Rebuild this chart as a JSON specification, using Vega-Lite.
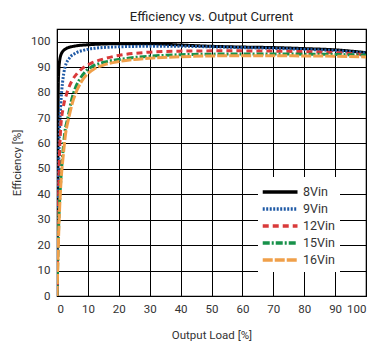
{
  "$schema": "https://vega.github.io/schema/vega-lite/v6.json",
  "autosize": "none",
  "width": 309,
  "height": 267,
  "padding": {"left": 57, "top": 29, "right": 22, "bottom": 60},
  "background": "white",
  "title": {"text": "Efficiency vs. Output Current", "font": "Roboto", "fontSize": 13, "fontWeight": "normal", "color": "#222", "offset": 5},
  "config": {
    "view": {"stroke": "black", "strokeWidth": 1.2},
    "font": "Roboto",
    "legend": {"title": null, "orient": "none", "legendX": 201, "legendY": 148, "fillColor": "white", "padding": 5, "symbolType": "M-1.3,0H3.1", "symbolSize": 250, "symbolStrokeWidth": 3.5, "labelFontSize": 12.5, "labelColor": "#333", "labelOffset": 20, "labelAlign": "left", "rowPadding": 0, "labelFont": "Roboto"}
  },
  "data": {"values": [
    {"s":"8Vin","x":0,"y":0},{"s":"8Vin","x":0.25,"y":50},{"s":"8Vin","x":0.45,"y":85},{"s":"8Vin","x":0.8,"y":92},{"s":"8Vin","x":1.5,"y":95.5},{"s":"8Vin","x":3,"y":97.3},{"s":"8Vin","x":5,"y":98.1},{"s":"8Vin","x":10,"y":98.8},{"s":"8Vin","x":20,"y":99.2},{"s":"8Vin","x":30,"y":99.2},{"s":"8Vin","x":40,"y":98.7},{"s":"8Vin","x":50,"y":98.2},{"s":"8Vin","x":60,"y":97.9},{"s":"8Vin","x":70,"y":97.7},{"s":"8Vin","x":80,"y":97.3},{"s":"8Vin","x":90,"y":96.8},{"s":"8Vin","x":100,"y":95.7},
    {"s":"9Vin","x":0,"y":0},{"s":"9Vin","x":0.3,"y":30},{"s":"9Vin","x":0.7,"y":60},{"s":"9Vin","x":1.2,"y":75},{"s":"9Vin","x":1.8,"y":84},{"s":"9Vin","x":2.6,"y":90},{"s":"9Vin","x":4,"y":93.5},{"s":"9Vin","x":6,"y":95.5},{"s":"9Vin","x":8.5,"y":96.6},{"s":"9Vin","x":12,"y":97.4},{"s":"9Vin","x":20,"y":98},{"s":"9Vin","x":30,"y":98.2},{"s":"9Vin","x":40,"y":98.2},{"s":"9Vin","x":50,"y":98},{"s":"9Vin","x":60,"y":97.7},{"s":"9Vin","x":70,"y":97.4},{"s":"9Vin","x":80,"y":97},{"s":"9Vin","x":90,"y":96.5},{"s":"9Vin","x":100,"y":95.5},
    {"s":"12Vin","x":0,"y":0},{"s":"12Vin","x":0.4,"y":30},{"s":"12Vin","x":0.8,"y":55},{"s":"12Vin","x":1.2,"y":66},{"s":"12Vin","x":2,"y":74},{"s":"12Vin","x":3,"y":79},{"s":"12Vin","x":4,"y":82.5},{"s":"12Vin","x":5,"y":85},{"s":"12Vin","x":6.5,"y":87.5},{"s":"12Vin","x":8.5,"y":89.8},{"s":"12Vin","x":11,"y":91.5},{"s":"12Vin","x":15,"y":93.2},{"s":"12Vin","x":20,"y":94.6},{"s":"12Vin","x":25,"y":95.4},{"s":"12Vin","x":30,"y":95.9},{"s":"12Vin","x":40,"y":96.3},{"s":"12Vin","x":50,"y":96.4},{"s":"12Vin","x":60,"y":96.4},{"s":"12Vin","x":70,"y":96.3},{"s":"12Vin","x":80,"y":96.1},{"s":"12Vin","x":90,"y":95.7},{"s":"12Vin","x":100,"y":94.9},
    {"s":"15Vin","x":0,"y":0},{"s":"15Vin","x":0.6,"y":30},{"s":"15Vin","x":1.2,"y":45},{"s":"15Vin","x":1.8,"y":55},{"s":"15Vin","x":2.5,"y":64},{"s":"15Vin","x":3.5,"y":70},{"s":"15Vin","x":4.7,"y":77},{"s":"15Vin","x":6,"y":82},{"s":"15Vin","x":7.5,"y":85.5},{"s":"15Vin","x":9,"y":88},{"s":"15Vin","x":11,"y":90},{"s":"15Vin","x":14,"y":91.5},{"s":"15Vin","x":17,"y":92.4},{"s":"15Vin","x":20,"y":93},{"s":"15Vin","x":25,"y":93.8},{"s":"15Vin","x":30,"y":94.3},{"s":"15Vin","x":40,"y":94.9},{"s":"15Vin","x":50,"y":95.1},{"s":"15Vin","x":60,"y":95.2},{"s":"15Vin","x":70,"y":95.2},{"s":"15Vin","x":80,"y":95.1},{"s":"15Vin","x":90,"y":95},{"s":"15Vin","x":100,"y":94.7},
    {"s":"16Vin","x":0,"y":0},{"s":"16Vin","x":0.7,"y":30},{"s":"16Vin","x":1.3,"y":45},{"s":"16Vin","x":2,"y":55},{"s":"16Vin","x":2.8,"y":64},{"s":"16Vin","x":3.8,"y":70},{"s":"16Vin","x":5,"y":76},{"s":"16Vin","x":6.5,"y":81},{"s":"16Vin","x":8,"y":84.5},{"s":"16Vin","x":10,"y":87.5},{"s":"16Vin","x":12,"y":89.3},{"s":"16Vin","x":15,"y":90.8},{"s":"16Vin","x":20,"y":92.2},{"s":"16Vin","x":25,"y":93},{"s":"16Vin","x":30,"y":93.5},{"s":"16Vin","x":40,"y":94.1},{"s":"16Vin","x":50,"y":94.4},{"s":"16Vin","x":60,"y":94.5},{"s":"16Vin","x":70,"y":94.5},{"s":"16Vin","x":80,"y":94.4},{"s":"16Vin","x":90,"y":94.3},{"s":"16Vin","x":100,"y":94}
  ]},
  "mark": {"type": "line", "interpolate": "monotone", "strokeWidth": 3, "clip": true},
  "encoding": {
    "x": {"field": "x", "type": "quantitative", "scale": {"domain": [0, 100], "nice": false},
      "axis": {"title": "Output Load [%]", "values": [0,10,20,30,40,50,60,70,80,90,100], "grid": true, "gridColor": "black", "gridOpacity": 1, "gridWidth": 1, "domain": false, "ticks": false, "labelPadding": 7, "labelFontSize": 11.5, "labelColor": "#333", "titleFontSize": 11.5, "titleFontWeight": "normal", "titleColor": "#333", "titlePadding": 15, "labelFont": "Roboto", "titleFont": "Roboto"}},
    "y": {"field": "y", "type": "quantitative", "scale": {"domain": [0, 105], "nice": false},
      "axis": {"title": "Efficiency [%]", "values": [0,10,20,30,40,50,60,70,80,90,100], "grid": true, "gridColor": "black", "gridOpacity": 1, "gridWidth": 1, "domain": false, "ticks": false, "labelPadding": 7, "labelFontSize": 11.5, "labelColor": "#333", "titleFontSize": 11.5, "titleFontWeight": "normal", "titleColor": "#333", "titlePadding": 8, "labelFont": "Roboto", "titleFont": "Roboto"}},
    "color": {"field": "s", "type": "nominal",
      "scale": {"domain": ["8Vin","9Vin","12Vin","15Vin","16Vin"], "range": ["#000000","#1f5aa6","#d93a3a","#17914a","#f0a04a"]}},
    "strokeDash": {"field": "s", "type": "nominal",
      "scale": {"domain": ["8Vin","9Vin","12Vin","15Vin","16Vin"], "range": [[1,0],[2,1.5],[6,4],[7,2,2,2],[10,2]]}},
    "order": {"field": "x", "type": "quantitative"}
  }
}
